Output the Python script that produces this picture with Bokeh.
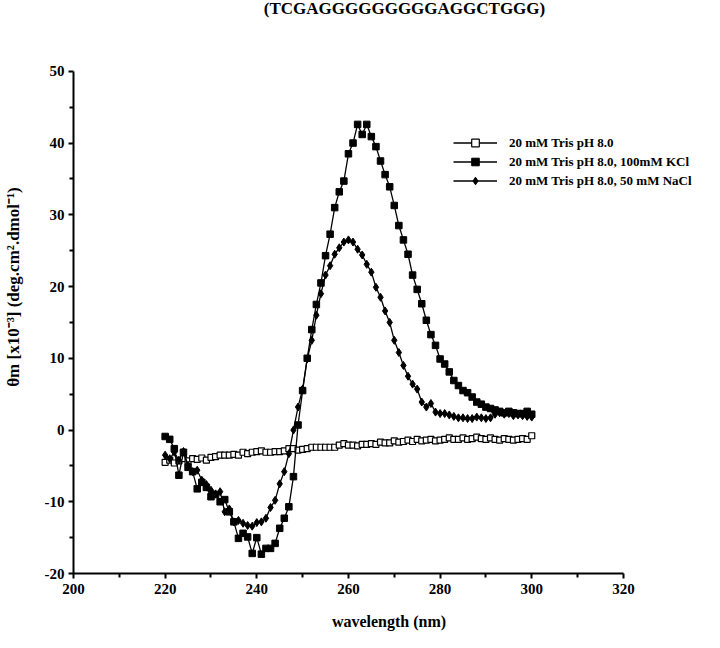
from bokeh.plotting import figure
from bokeh.models import Range1d, FixedTicker, Legend, LegendItem, Label
from bokeh.embed import file_html
from bokeh.resources import INLINE

title_text = "(TCGAGGGGGGGGGAGGCTGGG)"
x_label = "wavelength (nm)"
y_label = "\u03b8m [x10\u207b\u00b3] (deg.cm\u00b2.dmol\u207b\u00b9)"
names = ["20 mM Tris pH 8.0", "20 mM Tris pH 8.0, 100mM KCl", "20 mM Tris pH 8.0, 50 mM NaCl"]

wavelength = list(range(220, 301))

tris = [-4.5, -4.2, -4.6, -4.3, -4.0, -4.3, -4.0, -4.1, -3.9, -4.2,
        -3.8, -3.7, -3.5, -3.5, -3.5, -3.4, -3.5, -3.1, -3.3, -3.1,
        -3.0, -2.9, -3.1, -3.1, -3.0, -3.0, -2.9, -2.6, -2.6, -2.8,
        -2.7, -2.6, -2.4, -2.4, -2.4, -2.4, -2.4, -2.4, -2.1, -1.9,
        -2.1, -2.1, -2.2, -2.0, -2.0, -1.9, -2.0, -1.7, -1.8, -1.8,
        -1.5, -1.7, -1.6, -1.4, -1.6, -1.3, -1.5, -1.4, -1.3, -1.5,
        -1.4, -1.3, -1.1, -1.3, -1.3, -1.1, -1.3, -1.2, -1.0, -1.2,
        -1.3, -1.1, -1.3, -1.4, -1.2, -1.3, -1.4, -1.3, -1.2, -1.3,
        -0.8]

kcl = [-0.9, -1.3, -2.6, -6.3, -3.1, -5.2, -5.8, -8.2, -7.3, -8.0,
       -9.3, -9.0, -10.0, -9.7, -11.4, -12.8, -15.1, -14.4, -14.9, -17.2,
       -15.0, -17.3, -16.5, -16.5, -15.8, -13.7, -12.3, -10.7, -6.5, 0.7,
       5.5, 10.0, 14.0, 17.5, 20.5, 24.3, 27.3, 31.0, 33.2, 34.7,
       38.5, 40.0, 42.6, 41.2, 42.6, 40.9, 39.5, 37.5, 35.6, 33.9,
       31.3, 28.5, 26.5, 24.5, 21.6, 19.6, 17.6, 15.3, 13.3, 11.8,
       9.9, 9.2, 8.1, 6.9, 6.2, 5.5, 5.2, 4.6, 3.9, 3.6,
       3.2, 3.0, 2.8, 2.6, 2.4, 2.6, 2.4, 2.3, 2.3, 2.6,
       2.2]

nacl = [-3.5, -4.0, -3.1, -4.2, -3.0, -4.9, -5.8, -5.6, -7.0, -7.6,
        -8.4, -8.9, -8.6, -11.4, -11.0, -12.8, -12.6, -13.0, -13.3, -13.4,
        -12.9, -12.8, -12.3, -10.8, -9.8, -7.5, -5.8, -3.3, 0.0, 3.2,
        5.7, 9.9, 12.5, 16.0, 19.0, 21.6, 22.9, 24.5, 25.4, 26.2,
        26.5, 26.2, 25.2, 24.4, 23.1, 22.0, 19.9, 18.5, 16.6, 15.0,
        12.5, 10.8, 9.0, 7.5, 6.4, 5.7, 3.9, 3.2, 3.7, 2.5,
        2.3, 2.3, 2.1, 1.9, 1.7, 1.7, 1.6, 1.6, 1.8, 1.7,
        1.6, 1.7, 2.2, 2.4, 2.2, 2.3, 2.0, 2.1, 2.0, 1.9,
        1.8]

x_ticks = [200, 220, 240, 260, 280, 300, 320]
x_minor = [210, 230, 250, 270, 290, 310]
y_ticks = [-20, -10, 0, 10, 20, 30, 40, 50]
y_minor = [-15, -5, 5, 15, 25, 35, 45]

FONT = "Liberation Serif"

# frame extends to the right/top edges so the legend and heading are not clipped;
# axis lines are bounded to the visible data extent
p = figure(width=704, height=632, output_backend="svg", toolbar_location=None,
           x_range=Range1d(200, 337.7), y_range=Range1d(-20, 59.87),
           min_border_left=66, min_border_right=0, min_border_top=0, min_border_bottom=57)
p.outline_line_color = None
p.xgrid.visible = False
p.ygrid.visible = False
p.background_fill_color = "white"
p.border_fill_color = "white"

p.xaxis.ticker = FixedTicker(ticks=x_ticks, minor_ticks=x_minor)
p.yaxis.ticker = FixedTicker(ticks=y_ticks, minor_ticks=y_minor)
p.xaxis.bounds = (x_ticks[0], x_ticks[-1])
p.yaxis.bounds = (y_ticks[0], y_ticks[-1])
p.yaxis.major_label_overrides = {v: str(v) for v in y_ticks}
p.xaxis.major_label_overrides = {v: str(v) for v in x_ticks}

for ax in (p.xaxis, p.yaxis):
    ax.axis_line_width = 2
    ax.axis_line_color = "black"
    ax.major_tick_line_width = 2
    ax.minor_tick_line_width = 2
    ax.major_tick_in = 0
    ax.major_tick_out = 5
    ax.minor_tick_in = 0
    ax.minor_tick_out = 4
    ax.major_label_text_font = FONT
    ax.major_label_text_font_style = "bold"
    ax.major_label_text_font_size = "15px"
    ax.major_label_text_color = "black"
    ax.axis_label_text_font = FONT
    ax.axis_label_text_font_style = "bold"
    ax.axis_label_text_color = "black"

p.xaxis.axis_label_text_font_size = "16px"
p.yaxis.axis_label_text_font_size = "17px"
p.xaxis.axis_label = x_label
p.yaxis.axis_label = y_label
p.xaxis.major_label_standoff = 5
p.yaxis.major_label_standoff = 4
p.xaxis.axis_label_standoff = 16
p.yaxis.axis_label_standoff = 19

l1 = p.line(wavelength, tris, line_color="black", line_width=1.3)
s1 = p.scatter(wavelength, tris, marker="square", size=6, fill_color="white",
               line_color="black", line_width=1.2)
l2 = p.line(wavelength, kcl, line_color="black", line_width=1.3)
s2 = p.scatter(wavelength, kcl, marker="square", size=6.5, fill_color="black", line_color="black")
l3 = p.line(wavelength, nacl, line_color="black", line_width=1.3)
s3 = p.scatter(wavelength, nacl, marker="diamond", size=8, fill_color="black", line_color="black")

legend = Legend(items=[LegendItem(label=names[0], renderers=[l1, s1]),
                       LegendItem(label=names[1], renderers=[l2, s2]),
                       LegendItem(label=names[2], renderers=[l3, s3])],
                location=(380, 383), padding=0, margin=0, spacing=0,
                glyph_width=44, glyph_height=19, label_height=19, label_standoff=12,
                border_line_color=None, background_fill_alpha=0,
                label_text_font=FONT, label_text_font_style="bold",
                label_text_font_size="13px", label_text_color="black")
p.add_layout(legend, "center")

title = Label(x=331, y=565, x_units="screen", y_units="screen", text=title_text,
              text_font=FONT, text_font_style="bold", text_font_size="17px",
              text_align="center", text_baseline="middle", text_color="black")
p.add_layout(title)

open("out.html", "w").write(file_html(p, INLINE))
